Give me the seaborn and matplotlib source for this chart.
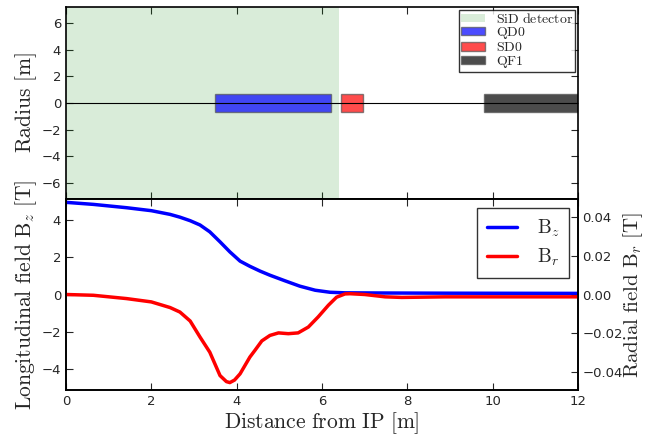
import numpy as np
import pandas as pd
import matplotlib
matplotlib.use("Agg")
import matplotlib.pyplot as plt
import seaborn as sns

# -----------------------------
# DATA
# -----------------------------
# magnet / detector layout [m]
element_names = ["QD0", "SD0", "QF1"]
element_start = [3.5, 6.45, 9.8]
element_length = [2.7, 0.5, 2.6]
element_half_height = [0.7, 0.7, 0.7]
element_colors = ["#0000ff", "#ff0000", "#000000"]
detector_end = 6.4

# longitudinal field Bz [T]
bz_x = [0, 0.64, 1.42, 2.0, 2.44, 2.67, 2.91, 3.14, 3.37, 3.61, 3.84, 4.08, 4.31,
        4.55, 4.78, 5.13, 5.48, 5.84, 6.19, 6.54, 7.5, 9.0, 12.0]
bz_val = [4.97, 4.86, 4.68, 4.52, 4.32, 4.17, 3.98, 3.75, 3.38, 2.84, 2.3, 1.8, 1.52,
          1.26, 1.04, 0.74, 0.45, 0.23, 0.12, 0.09, 0.08, 0.07, 0.06]

# radial field Br [T]
br_x = [0, 0.64, 1.42, 2.0, 2.44, 2.67, 2.91, 3.14, 3.37, 3.61, 3.76, 3.84, 3.95,
        4.08, 4.31, 4.43, 4.59, 4.78, 4.98, 5.21, 5.44, 5.68, 5.91, 6.15, 6.34,
        6.54, 6.66, 7.0, 7.48, 7.87, 8.88, 10.5, 12.0]
br_val = [0, -0.0004, -0.0021, -0.0038, -0.0067, -0.0090, -0.0136, -0.0218, -0.0296,
          -0.0416, -0.0447, -0.0452, -0.0439, -0.0407, -0.0321, -0.0286, -0.0238,
          -0.0210, -0.0197, -0.0201, -0.0197, -0.0167, -0.0115, -0.0055, -0.0014,
          0.0003, 0.0004, 0.0, -0.0012, -0.0015, -0.0012, -0.0012, -0.0012]

x_ticks = [0, 2, 4, 6, 8, 10, 12]

# -----------------------------
# STYLE
# -----------------------------
sns.set_style("ticks")
plt.rcParams["font.family"] = ["DejaVu Sans"]
plt.rcParams["mathtext.fontset"] = "cm"
plt.rcParams["xtick.direction"] = "in"
plt.rcParams["ytick.direction"] = "in"
plt.rcParams["xtick.major.size"] = 5
plt.rcParams["ytick.major.size"] = 5
plt.rcParams["axes.linewidth"] = 1.2
plt.rcParams["axes.edgecolor"] = "black"

LABEL_FS = 15.5
TICK_FS = 9.5


def tex(s):
    return r"$\mathrm{" + s.replace(" ", r"\ ") + "}$"


fig = plt.figure(figsize=(6.47, 4.43), dpi=100)
W, H = 647, 443
ax_top = fig.add_axes([66 / W, (H - 199) / H, 512 / W, 192 / H])
ax_bot = fig.add_axes([66 / W, (H - 390) / H, 512 / W, 191 / H], sharex=ax_top)

# -----------------------------
# TOP: layout
# -----------------------------
ax_top.axvspan(0, detector_end, color="green", alpha=0.15, lw=0)
ax_top.barh([0] * len(element_names), element_length, left=element_start,
            height=[2 * h for h in element_half_height], color=element_colors,
            alpha=0.7, edgecolor="#555555", linewidth=1.0, zorder=2)
handles = [plt.Rectangle((0, 0), 1, 1, color="green", alpha=0.15, lw=0)]
for c in element_colors:
    handles.append(plt.Rectangle((0, 0), 1, 1, facecolor=c, alpha=0.7, edgecolor="#555555"))
ax_top.axhline(0, color="black", lw=0.8, zorder=3)
ax_top.set_ylim(-7.2, 7.2)
ax_top.set_yticks([-6, -4, -2, 0, 2, 4, 6])
ax_top.set_ylabel(tex("Radius [m]"), fontsize=LABEL_FS, labelpad=2)
ax_top.tick_params(axis="both", labelsize=TICK_FS, top=True, right=True)
ax_top.tick_params(axis="x", labelbottom=False)
leg = ax_top.legend(handles, [tex("SiD detector")] + [tex(n) for n in element_names],
                    loc="upper right", fontsize=10, frameon=True, fancybox=False,
                    handlelength=1.7, handleheight=0.55, labelspacing=-0.05,
                    borderpad=0.15, handletextpad=0.8, borderaxespad=0.2)
leg.get_frame().set_edgecolor("black")
leg.get_frame().set_linewidth(1.0)

# -----------------------------
# BOTTOM: fields
# -----------------------------
df_bz = pd.DataFrame({"x": bz_x, "B": bz_val})
df_br = pd.DataFrame({"x": br_x, "B": br_val})
ax_br = ax_bot.twinx()

sns.lineplot(data=df_bz, x="x", y="B", ax=ax_bot, color="#0000ff", lw=2.5, legend=False)
sns.lineplot(data=df_br, x="x", y="B", ax=ax_br, color="#ff0000", lw=2.5, legend=False)

ax_bot.set_xlim(0, 12)
ax_bot.set_xticks(x_ticks)
ax_bot.set_ylim(-5.15, 5.15)
ax_bot.set_yticks([-4, -2, 0, 2, 4])
ax_br.set_ylim(-0.049, 0.049)
ax_br.set_yticks([-0.04, -0.02, 0.0, 0.02, 0.04])
ax_br.set_yticklabels(["\u22120.04", "\u22120.02", "0.00", "0.02", "0.04"])

ax_bot.set_xlabel(tex("Distance from IP [m]"), fontsize=LABEL_FS, labelpad=2)
ax_bot.set_ylabel(r"$\mathrm{Longitudinal\ field\ B}_z\ \mathrm{[T]}$", fontsize=LABEL_FS,
                  labelpad=2)
ax_br.set_ylabel(r"$\mathrm{Radial\ field\ B}_r\ \mathrm{[T]}$", fontsize=15,
                 labelpad=-1)
ax_bot.tick_params(axis="both", labelsize=TICK_FS, top=True)
ax_br.tick_params(axis="y", labelsize=TICK_FS, pad=3)

line_handles = [plt.Line2D([], [], color="#0000ff", lw=2.5),
                plt.Line2D([], [], color="#ff0000", lw=2.5)]
leg2 = ax_bot.legend(line_handles, [r"$\mathrm{B}_z$", r"$\mathrm{B}_r$"],
                     loc="upper right", fontsize=14, frameon=True, fancybox=False,
                     handlelength=1.55, handletextpad=1.0, borderpad=0.5,
                     labelspacing=0.4, borderaxespad=0.45)
leg2.get_frame().set_edgecolor("black")
leg2.get_frame().set_linewidth(1.0)

fig.savefig("out.png", dpi=100)
